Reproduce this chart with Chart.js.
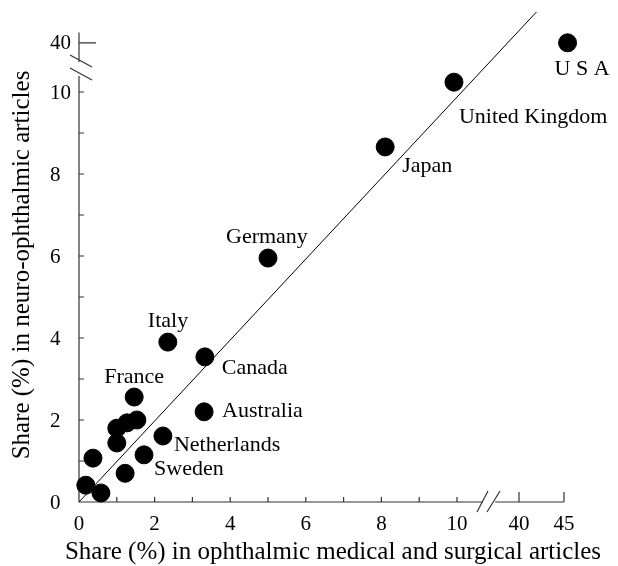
<!DOCTYPE html>
<html>
<head>
<meta charset="utf-8">
<script src="https://cdn.jsdelivr.net/npm/chart.js@4.4.0/dist/chart.umd.min.js"></script>
<style>
	html, body { margin: 0; padding: 0; background: #fff; }
	#wrap { width: 618px; height: 566px; }
</style>
</head>
<body>
<div id="wrap"><canvas id="chart" width="618" height="566"></canvas></div>
<script>
// share (%) in ophthalmic medical and surgical articles
const shareOphth = [45.4, 9.92, 8.1, 5.0, 2.35, 3.33, 1.46, 3.31, 2.22, 1.72, 1.53, 1.27, 1.0, 1.0, 0.37, 1.22, 0.18, 0.58];
// share (%) in neuro-ophthalmic articles
const shareNeuro = [40, 10.24, 8.66, 5.95, 3.90, 3.54, 2.56, 2.20, 1.61, 1.15, 2.0, 1.93, 1.8, 1.44, 1.07, 0.7, 0.41, 0.22];
const countries = ['U S A', 'United Kingdom', 'Japan', 'Germany', 'Italy', 'Canada', 'France', 'Australia', 'Netherlands', 'Sweden',
	'', '', '', '', '', '', '', ''];

const xTickLabels = [0, 2, 4, 6, 8, 10, 40, 45];
const yTickLabels = [0, 2, 4, 6, 8, 10, 40];
const lineEnds = [[0, 0], [12.1, 11.95]]; // diagonal reference line (display units)

// label placement (pixels from dot centre), kept apart from the data
const labelOffsets = [[-13, 26], [5, 35], [17, 19], [-42, -21], [-20, -21], [17, 11], [-30, -20], [18, -1], [11, 9], [10, 14]];

// broken axes: values past the break get squeezed into a short segment
const xUpper = (v) => v < 20 ? v : 11.64 + (v - 40) * 0.238;
const yUpper = (v) => v < 20 ? v : 11.2 + (v - 40) * 0.25;

const serif = '"Liberation Serif", "Times New Roman", serif';

const axesPlugin = {
	id: 'brokenAxes',
	beforeDatasetsDraw(chart) {
		const ctx = chart.ctx;
		const xs = chart.scales.x, ys = chart.scales.y;
		const x0 = xs.getPixelForValue(0), y0 = ys.getPixelForValue(0);
		ctx.save();
		ctx.strokeStyle = '#333';
		ctx.lineWidth = 1.2;

		// x axis, lower part then upper part
		const xBreak = x0 + 404, xResume = x0 + 416;
		ctx.beginPath();
		ctx.moveTo(x0, y0); ctx.lineTo(xBreak, y0);
		ctx.moveTo(xResume, y0); ctx.lineTo(xs.getPixelForValue(xUpper(45)), y0);
		for (let i = 1; i <= 10; i++) {
			const px = xs.getPixelForValue(i);
			ctx.moveTo(px, y0); ctx.lineTo(px, y0 - 5);
		}
		[40, 45].forEach(v => {
			const px = xs.getPixelForValue(xUpper(v));
			ctx.moveTo(px, y0); ctx.lineTo(px, y0 - 10);
		});
		// break slashes
		ctx.moveTo(xBreak - 6, y0 + 10); ctx.lineTo(xBreak + 5, y0 - 11);
		ctx.moveTo(xResume - 8, y0 + 10); ctx.lineTo(xResume + 5, y0 - 11);

		// y axis
		const yBreak = y0 - 426, yResume = y0 - 440;
		ctx.moveTo(x0, y0); ctx.lineTo(x0, yBreak);
		ctx.moveTo(x0, yResume); ctx.lineTo(x0, ys.getPixelForValue(yUpper(41)));
		for (let i = 1; i <= 10; i++) {
			const py = ys.getPixelForValue(i);
			ctx.moveTo(x0, py); ctx.lineTo(x0 + 5, py);
		}
		const p40 = ys.getPixelForValue(yUpper(40));
		ctx.moveTo(x0, p40); ctx.lineTo(x0 + 17, p40);
		ctx.moveTo(x0 - 9, yBreak - 8); ctx.lineTo(x0 + 13, yBreak + 4);
		ctx.moveTo(x0 - 9, yResume - 7); ctx.lineTo(x0 + 13, yResume + 5);
		ctx.stroke();

		// tick labels
		ctx.fillStyle = '#000';
		ctx.font = '21px ' + serif;
		ctx.textAlign = 'center';
		ctx.textBaseline = 'middle';
		xTickLabels.forEach(v => ctx.fillText(String(v), xs.getPixelForValue(xUpper(v)), y0 + 22));
		ctx.textAlign = 'left';
		yTickLabels.forEach(v => ctx.fillText(String(v), x0 - 29, ys.getPixelForValue(yUpper(v)) + 1));

		// axis titles
		ctx.font = '25px ' + serif;
		ctx.textAlign = 'center';
		ctx.fillText('Share (%) in ophthalmic medical and surgical articles', 333, 552);
		ctx.translate(22, 265);
		ctx.rotate(-Math.PI / 2);
		ctx.fillText('Share (%) in neuro-ophthalmic articles', 0, 0);
		ctx.restore();
	},
	afterDatasetsDraw(chart) {
		const ctx = chart.ctx;
		const meta = chart.getDatasetMeta(1);
		ctx.save();
		ctx.fillStyle = '#000';
		ctx.font = '22px ' + serif;
		ctx.textAlign = 'left';
		ctx.textBaseline = 'middle';
		countries.forEach((name, i) => {
			if (!name) return;
			const pt = meta.data[i];
			const off = labelOffsets[i];
			ctx.fillText(name, pt.x + off[0], pt.y + off[1]);
		});
		ctx.restore();
	}
};

new Chart(document.getElementById('chart'), {
	type: 'scatter',
	data: {
		datasets: [{
			type: 'line',
			data: lineEnds.map(p => ({x: p[0], y: p[1]})),
			borderColor: '#000',
			borderWidth: 1,
			pointRadius: 0,
			fill: false
		}, {
			data: shareOphth.map((v, i) => ({x: xUpper(v), y: yUpper(shareNeuro[i])})),
			backgroundColor: '#000',
			borderColor: '#000',
			pointRadius: 9,
			pointHoverRadius: 9
		}]
	},
	options: {
		responsive: false,
		animation: false,
		clip: false,
		layout: {padding: {left: 79, right: 47.6, top: 10, bottom: 64}},
		scales: {
			x: {type: 'linear', min: 0, max: 13, display: false},
			y: {type: 'linear', min: 0, max: 12, display: false}
		},
		plugins: {legend: {display: false}, tooltip: {enabled: false}}
	},
	plugins: [axesPlugin]
});
</script>
</body>
</html>
